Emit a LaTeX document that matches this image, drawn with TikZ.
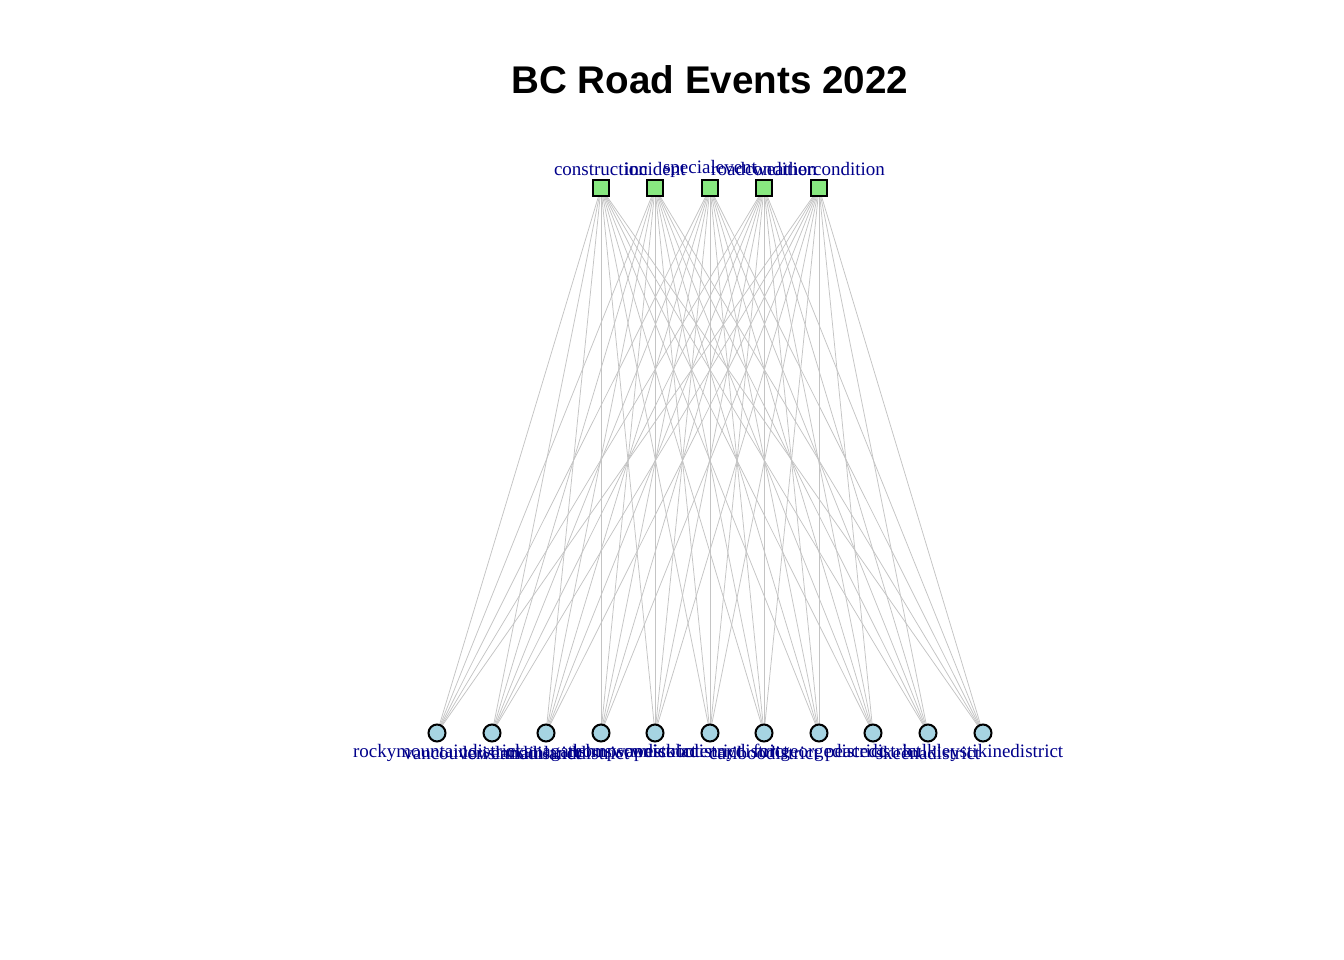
\documentclass[tikz,border=0pt]{standalone}
\usepackage{fontspec}
\setmainfont{Liberation Serif}
\newfontfamily\titlefont{Liberation Sans}
\definecolor{edgegray}{HTML}{C4C4C4}
\definecolor{evgreen}{HTML}{88E880}
\definecolor{distblue}{HTML}{A6D4E2}
\definecolor{labblue}{HTML}{00008B}
\begin{document}
\begin{tikzpicture}[x=1pt,y=-1pt,
  evnode/.style={draw=black,line width=2pt,fill=evgreen,minimum size=16pt,inner sep=0pt,rectangle},
  distnode/.style={draw=black,line width=2pt,fill=distblue,minimum size=17pt,inner sep=0pt,circle},
  lab/.style={text=labblue,font=\fontsize{19}{19}\selectfont,inner sep=0pt,anchor=center},
  edge/.style={draw=edgegray,line width=0.75pt}]
\useasboundingbox[fill=white] (0,0) rectangle (1344,960);
\node[font=\titlefont\bfseries\fontsize{38.6}{38.6}\selectfont,anchor=center] (title) at (710,80) {BC Road Events 2022};
% top (event type) nodes
\foreach \i/\x in {1/601,2/655,3/710,4/764,5/819}
  \coordinate (tc\i) at (\x,188);
% bottom (district) nodes
\foreach \j/\x in {1/437,2/492,3/546,4/601,5/655,6/710,7/764,8/819,9/873,10/928,11/983}
  \coordinate (bc\j) at (\x,733);
% edges
\foreach \i in {1,...,5}
  \foreach \j in {1,...,11}
    \draw[edge] (tc\i) -- (bc\j);
% nodes
\foreach \i in {1,...,5}
  \node[evnode] (t\i) at (tc\i) {};
\foreach \j in {1,...,11}
  \node[distnode] (b\j) at (bc\j) {};
% top labels
\node[lab] (lt1) at (601,169) {construction};
\node[lab] (lt2) at (655,169) {incident};
\node[lab] (lt3) at (710,169) {specialevent};
\node[lab] (lt4) at (764,169) {roadcondition};
\node[lab] (lt5) at (819,169) {weathercondition};
% bottom labels
\node[lab] (lb1) at (437,753) {rockymountaindistrict};
\node[lab] (lb2) at (492,753) {vancouverislanddistrict};
\node[lab] (lb3) at (546,753) {lowermainlanddistrict};
\node[lab] (lb4) at (601,753) {okanaganshuswapdistrict};
\node[lab] (lb5) at (655,753) {thompsonnicoladistrict};
\node[lab] (lb6) at (710,753) {westkootenaydistrict};
\node[lab] (lb7) at (764,753) {cariboodistrict};
\node[lab] (lb8) at (819,753) {fortgeorgedistrict};
\node[lab] (lb9) at (873,753) {peacedistrict};
\node[lab] (lb10) at (928,753) {skeenadistrict};
\node[lab] (lb11) at (983,753) {bulkleystikinedistrict};
\end{tikzpicture}
\end{document}
